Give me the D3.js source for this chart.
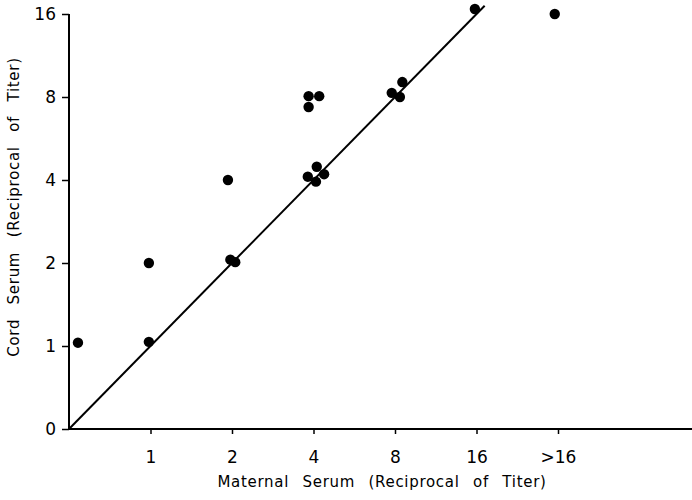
<!DOCTYPE html>
<html>
<head>
<meta charset="utf-8">
<script src="https://cdn.jsdelivr.net/npm/d3@7"></script>
<style>
html,body{margin:0;padding:0;background:#fff;}
text{font-family:"DejaVu Sans",sans-serif;fill:#000;}
</style>
</head>
<body>
<svg id="chart" width="692" height="500"></svg>
<script>
// Categories (ordinal titer levels)
const xLabels = ["0", "1", "2", "4", "8", "16", ">16"];
const yLabels = ["0", "1", "2", "4", "8", "16"];
// Points, in category-index units (x: maternal, y: cord)
const maternal = [0.11, 0.98, 0.98, 1.95, 1.98, 2.04, 2.94, 3.07, 2.94, 3.04, 2.93, 3.13, 3.03, 3.96, 4.06, 4.09, 4.98, 5.96];
const cord     = [1.04, 2.00, 1.05, 3.00, 2.04, 2.01, 4.01, 4.01, 3.88, 3.16, 3.04, 3.07, 2.98, 4.05, 4.00, 4.18, 5.06, 5.00];
// Line of identity
const identity = [[0, 0], [5.1, 5.1]];

const svg = d3.select("#chart");
const x = d3.scaleLinear().domain([0, 6]).range([69, 558]);
const y = d3.scaleLinear().domain([0, 5]).range([429, 14]);

// axes
const xAxis = svg.append("g").attr("transform", `translate(0,${y(0)})`)
  .call(d3.axisBottom(x).tickValues([1, 2, 3, 4, 5, 6]).tickFormat(i => xLabels[i]).tickSize(5).tickSizeOuter(0));
xAxis.select(".domain").remove();
xAxis.selectAll("line").attr("stroke", "#000").attr("stroke-width", 1.5);
xAxis.selectAll("text").attr("font-size", 17).attr("dy", "1.5em").style("font-family", "DejaVu Sans");

const yAxis = svg.append("g").attr("transform", `translate(${x(0)},0)`)
  .call(d3.axisLeft(y).tickValues([0, 1, 2, 3, 4, 5]).tickFormat(i => yLabels[i]).tickSize(7).tickSizeOuter(0));
yAxis.select(".domain").remove();
yAxis.selectAll("line").attr("stroke", "#000").attr("stroke-width", 1.5);
yAxis.selectAll("text").attr("font-size", 17).attr("x", -13).style("font-family", "DejaVu Sans");

// axis lines
svg.append("line").attr("x1", x(0)).attr("x2", 692).attr("y1", y(0)).attr("y2", y(0))
  .attr("stroke", "#000").attr("stroke-width", 2);
svg.append("line").attr("x1", x(0)).attr("x2", x(0)).attr("y1", y(0)).attr("y2", y(5))
  .attr("stroke", "#000").attr("stroke-width", 2);

// identity line
svg.append("path").datum(identity)
  .attr("d", d3.line().x(d => x(d[0])).y(d => y(d[1])))
  .attr("stroke", "#000").attr("stroke-width", 2).attr("fill", "none");

// points
svg.append("g").selectAll("circle").data(maternal.map((m, i) => [m, cord[i]]))
  .join("circle")
  .attr("cx", d => x(d[0])).attr("cy", d => y(d[1])).attr("r", 5.2).attr("fill", "#000");

// titles
svg.append("text").attr("x", 382).attr("y", 487).attr("text-anchor", "middle")
  .attr("font-size", 15).attr("word-spacing", 8).attr("letter-spacing", 0.7)
  .text("Maternal Serum (Reciprocal of Titer)");
svg.append("text").attr("transform", "translate(19,207) rotate(-90)").attr("text-anchor", "middle")
  .attr("font-size", 15).attr("word-spacing", 9).attr("letter-spacing", 0.7)
  .text("Cord Serum (Reciprocal of Titer)");
</script>
</body>
</html>
